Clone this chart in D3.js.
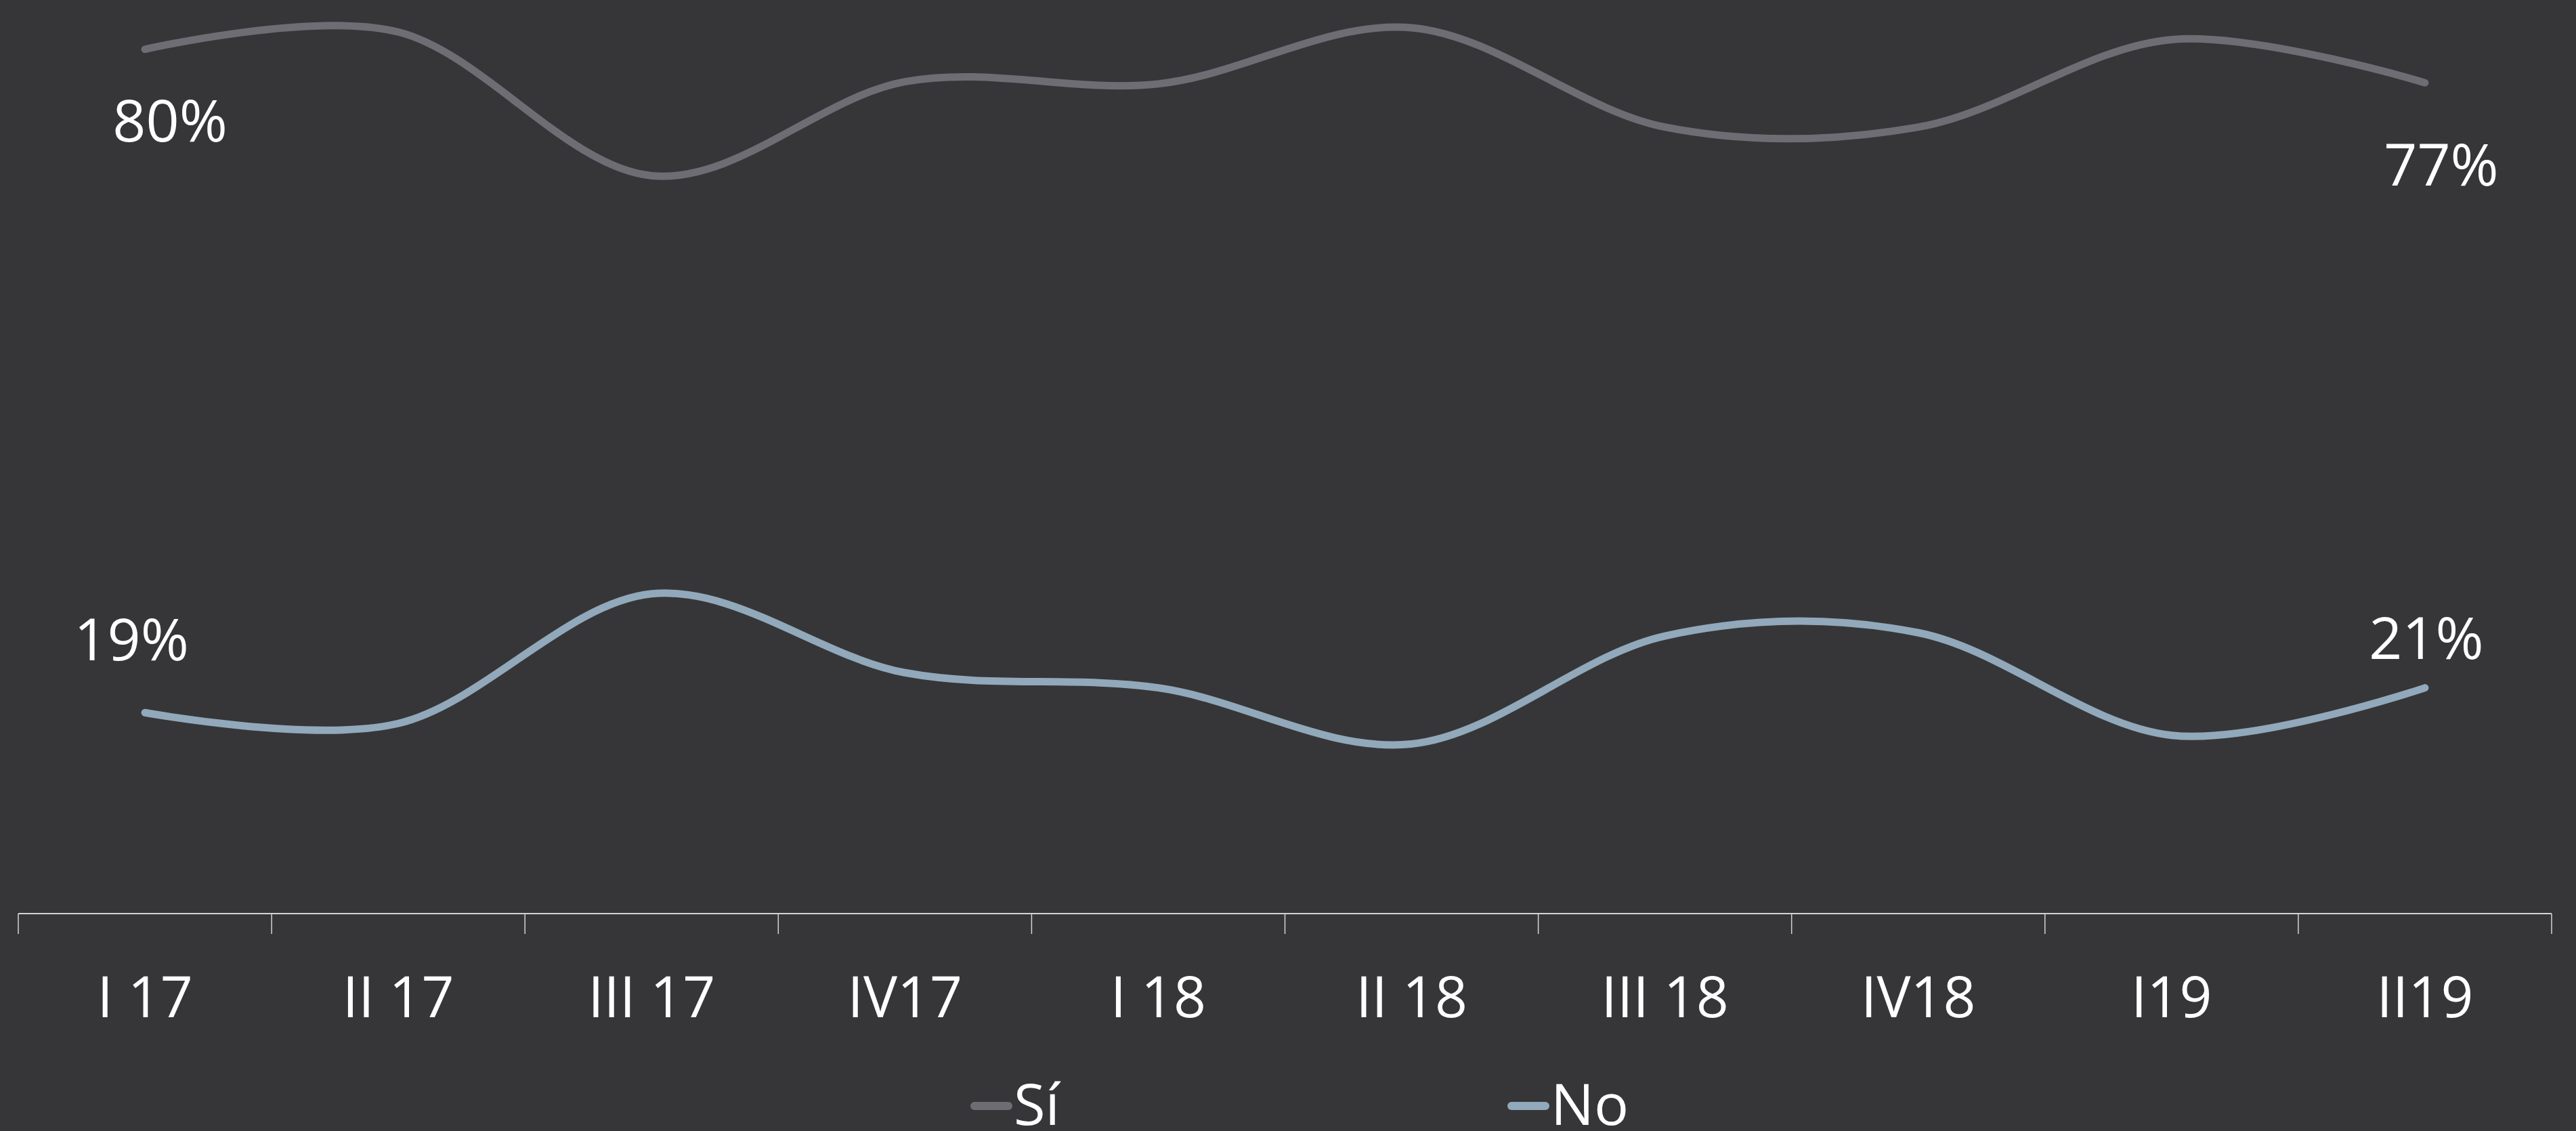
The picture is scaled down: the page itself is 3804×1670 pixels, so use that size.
<!DOCTYPE html>
<html>
<head>
<meta charset="utf-8">
<script src="https://cdn.jsdelivr.net/npm/d3@7"></script>
<style>
  html, body { margin: 0; padding: 0; background: #363638; overflow: hidden; }
  text { font-family: "Open Sans", "Noto Sans", sans-serif; fill: #ffffff; }
</style>
</head>
<body>
<div id="chart"></div>
<script>
// Data (percent)
const categories = ["I 17", "II 17", "III 17", "IV17", "I 18", "II 18", "III 18", "IV18", "I19", "II19"];
const siValues = [80.0, 81.6, 68.3, 77.0, 76.8, 82.0, 72.8, 72.8, 80.9, 76.9];
const noValues = [18.6, 17.6, 29.6, 22.3, 20.9, 15.7, 25.7, 26.0, 16.5, 20.9];
const seriesNames = ["Sí", "No"];

const width = 3804, height = 1670;
const colors = { "Sí": "#6e6d73", "No": "#91a9ba" };

const svg = d3.select("#chart")
  .append("svg")
  .attr("width", width)
  .attr("height", height);

// Scales
const x = d3.scaleBand()
  .domain(categories)
  .range([27, 3768]);

const y = d3.scaleLinear()
  .domain([0, 84])
  .range([1349, 9]);

const cx = c => x(c) + x.bandwidth() / 2;

// Axis labels (band centres)
const xAxis = svg.append("g")
  .attr("transform", `translate(0,${y(0)})`)
  .call(d3.axisBottom(x).tickSize(0));

xAxis.select(".domain").remove();
xAxis.selectAll("text")
  .attr("y", 153)
  .attr("dy", null)
  .attr("font-size", "84px")
  .attr("font-family", "'Open Sans', 'Noto Sans', sans-serif")
  .attr("fill", "#ffffff");

// Axis line and tick marks at band boundaries
svg.append("line")
  .attr("x1", x.range()[0])
  .attr("x2", x.range()[1])
  .attr("y1", y(0))
  .attr("y2", y(0))
  .attr("stroke", "#d4d4d4")
  .attr("stroke-width", 2);

const boundaries = categories.map(c => x(c)).concat([x.range()[1]]);
svg.selectAll(".tick-mark")
  .data(boundaries)
  .enter()
  .append("line")
  .attr("class", "tick-mark")
  .attr("x1", d => d)
  .attr("x2", d => d)
  .attr("y1", y(0))
  .attr("y2", y(0) + 30)
  .attr("stroke", "#d4d4d4")
  .attr("stroke-width", 1.5);

// Smoothed lines
const line = d3.line()
  .x((d, i) => cx(categories[i]))
  .y(d => y(d))
  .curve(d3.curveCardinal.tension(0));

const series = [
  { name: "Sí", values: siValues },
  { name: "No", values: noValues }
];

series.forEach(s => {
  svg.append("path")
    .datum(s.values)
    .attr("d", line)
    .attr("fill", "none")
    .attr("stroke", colors[s.name])
    .attr("stroke-width", 11)
    .attr("stroke-linecap", "round")
    .attr("stroke-linejoin", "round");
});

// Data labels on the first and last points
const labels = [
  { values: siValues, i: 0, dx: 37, dy: 136 },
  { values: siValues, i: 9, dx: 24, dy: 152 },
  { values: noValues, i: 0, dx: -20, dy: -77 },
  { values: noValues, i: 9, dx: 2, dy: -43 }
];

labels.forEach(l => {
  const v = l.values[l.i];
  svg.append("text")
    .attr("x", cx(categories[l.i]) + l.dx)
    .attr("y", y(v) + l.dy)
    .attr("text-anchor", "middle")
    .attr("font-size", "86px")
    .text(Math.round(v) + "%");
});

// Legend
const legendX = [1433, 2226];
seriesNames.forEach((name, i) => {
  const g = svg.append("g").attr("transform", `translate(${legendX[i]},1633)`);
  g.append("line")
    .attr("x1", 6)
    .attr("x2", 56)
    .attr("y1", 0)
    .attr("y2", 0)
    .attr("stroke", colors[name])
    .attr("stroke-width", 12)
    .attr("stroke-linecap", "round");
  g.append("text")
    .attr("x", 64)
    .attr("y", 28)
    .attr("font-size", "85px")
    .text(name);
});
</script>
</body>
</html>
